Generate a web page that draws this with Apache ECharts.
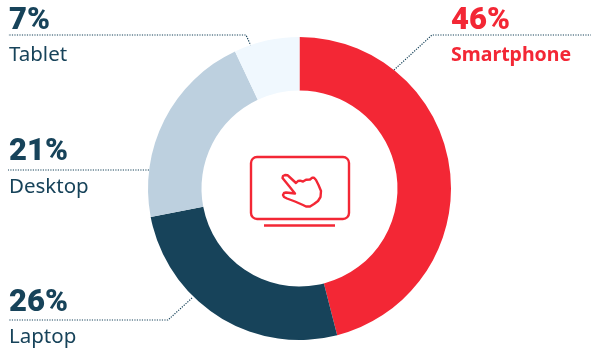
<!DOCTYPE html>
<html>
<head>
<meta charset="utf-8">
<style>html,body{margin:0;padding:0;background:#fff}#chart{width:591px;height:349px}</style>
<script src="https://cdn.jsdelivr.net/npm/echarts@6/dist/echarts.min.js"></script>
</head>
<body>
<div id="chart"></div>
<script>
const categories = ['Smartphone', 'Laptop', 'Desktop', 'Tablet'];
const shares = [46, 26, 21, 7];
const sliceColors = ['#f32735', '#17435a', '#bdd0df', '#f0f8fe'];
const textColors = ['#f32735', '#17435a', '#17435a', '#17435a'];
const nameWeights = [700, 400, 400, 400];
const nameSizes = [19.5, 20.5, 20.5, 20.5];

// Callout geometry: label left edge, rule height, and the rule's far end and slice anchor.
const labelX = [451, 9, 9, 9];
const ruleY = [35, 320, 170, 35];
const ruleStart = [[591, 35], [8, 320], [8, 170], [8, 35]];
const ruleElbow = [[432, 35], [168, 320], [149, 170], [246, 35]];
const ruleEnd = [[394, 70], [192, 298], [149, 170], [251, 46]];
const percentHalf = [16, 19, 20, 16];
const nameHalf = [18, 15, 15, 18];
const labelDrop = [2, 2, 2, 2];

// Outline of the pointing hand inside the screen icon
const handOutline = [
  [282.5, 178], [283, 176], [285, 175], [287.5, 175.2], [289.5, 177], [296, 183],
  [298, 181], [300, 180.7], [303, 181.5], [306, 179.7], [310, 179.5], [312, 177.8], [314, 177.8],
  [316, 180], [318.5, 185], [321, 191], [320.5, 197], [318, 201], [314, 204], [310, 206.5], [306, 206.5], [303, 205],
  [295, 201.5], [287, 198.5], [284, 197], [283, 195], [284, 193], [286, 192.5], [295, 193.5], [289, 186]
];

const RED = '#f32735';
const chart = echarts.init(document.getElementById('chart'), null, { renderer: 'canvas' });

chart.setOption({
  animation: false,
  backgroundColor: '#ffffff',
  series: [{
    type: 'pie',
    center: [299.5, 188.5],
    radius: [98, 151.5],
    startAngle: 90,
    clockwise: true,
    avoidLabelOverlap: false,
    silent: true,
    data: categories.map((name, i) => ({
      name,
      value: shares[i],
      itemStyle: { color: sliceColors[i] },
      label: {
        show: true,
        position: 'outside',
        formatter: '{p|' + shares[i] + '%}\n{n|{b}}',
        rich: {
          p: { fontFamily: 'Roboto', fontSize: 31, fontWeight: 900, color: textColors[i], lineHeight: percentHalf[i] * 2, align: 'left' },
          n: { fontFamily: 'Noto Sans', fontSize: nameSizes[i], fontWeight: nameWeights[i], color: textColors[i], lineHeight: nameHalf[i] * 2, align: 'left' }
        }
      },
      labelLine: {
        show: true,
        lineStyle: { color: '#17435a', width: 1.2, type: [1.2, 1.3] }
      }
    })),
    labelLayout: (params) => {
      const i = params.dataIndex;
      return {
        x: labelX[i],
        y: ruleY[i] - percentHalf[i] * 2 + labelDrop[i],
        align: 'left',
        verticalAlign: 'top',
        labelLinePoints: [ruleEnd[i], ruleElbow[i], ruleStart[i]]
      };
    }
  }],
  graphic: [{
    type: 'group',
    silent: true,
    children: [
      {
        type: 'rect',
        shape: { x: 251, y: 157, width: 98, height: 62, r: 6 },
        style: { fill: 'none', stroke: RED, lineWidth: 2.4 }
      },
      {
        type: 'line',
        shape: { x1: 264, y1: 225.5, x2: 335, y2: 225.5 },
        style: { stroke: RED, lineWidth: 2.4 }
      },
      {
        type: 'polygon',
        shape: { points: handOutline },
        style: { fill: 'none', stroke: RED, lineWidth: 2.4, lineJoin: 'round' }
      }
    ]
  }]
});
</script>
</body>
</html>
